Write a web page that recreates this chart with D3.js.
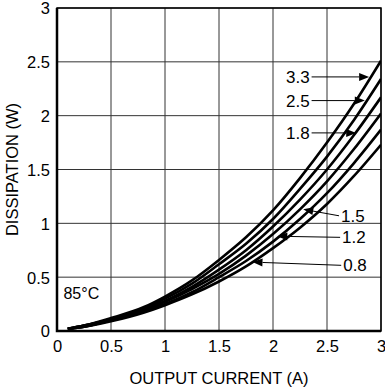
<!DOCTYPE html>
<html>
<head>
<meta charset="utf-8">
<script src="https://cdn.jsdelivr.net/npm/d3@7"></script>
<style>
  body { margin: 0; background: #fff; }
  text { font-family: Arial, "Liberation Sans", sans-serif; fill: #000; }
</style>
</head>
<body>
<svg class="chart"></svg>
<script>
// current values (A) where each curve was read
var currents = [0.1, 0.25, 0.5, 0.8, 1, 1.25, 1.5, 1.75, 2, 2.25, 2.5, 2.75, 3];

// dissipation (W) for each output voltage
var v33 = [0.02, 0.05, 0.12, 0.22, 0.32, 0.47, 0.66, 0.87, 1.12, 1.42, 1.75, 2.11, 2.51];
var v25 = [0.02, 0.05, 0.11, 0.21, 0.30, 0.44, 0.62, 0.81, 1.04, 1.32, 1.62, 1.96, 2.34];
var v18 = [0.02, 0.05, 0.11, 0.20, 0.28, 0.41, 0.57, 0.75, 0.97, 1.22, 1.50, 1.82, 2.17];
var v15 = [0.02, 0.04, 0.10, 0.19, 0.27, 0.39, 0.53, 0.70, 0.90, 1.13, 1.39, 1.69, 2.02];
var v12 = [0.02, 0.04, 0.10, 0.18, 0.25, 0.36, 0.50, 0.65, 0.83, 1.04, 1.28, 1.56, 1.87];
var v08 = [0.02, 0.04, 0.09, 0.17, 0.24, 0.34, 0.46, 0.60, 0.77, 0.96, 1.18, 1.44, 1.73];

var seriesList = [v33, v25, v18, v15, v12, v08];

var xTicks = [0, 0.5, 1, 1.5, 2, 2.5, 3];
var yTicks = [0, 0.5, 1, 1.5, 2, 2.5, 3];
var xTickLabels = ["0", "0.5", "1", "1.5", "2", "2.5", "3"];
var yTickLabels = ["0", "0.5", "1", "1.5", "2", "2.5", "3"];

// labels: text, where the text sits, where the arrow points (data units)
var labelNames = ["3.3", "2.5", "1.8", "1.5", "1.2", "0.8"];
var labelAt = [[2.12, 2.36], [2.12, 2.14], [2.12, 1.84], [2.63, 1.07], [2.64, 0.87], [2.65, 0.61]];
var arrowTip = [[2.89, 2.36], [2.85, 2.14], [2.77, 1.84], [2.28, 1.13], [2.04, 0.88], [1.81, 0.64]];

var svgWidth = 385, svgHeight = 388;
var margin = {top: 8, right: 4, bottom: 57, left: 57};
var width = svgWidth - margin.left - margin.right;
var height = svgHeight - margin.top - margin.bottom;
var fontStack = "Arial, 'Liberation Sans', sans-serif";

var svg = d3.select(".chart")
    .attr("width", svgWidth)
    .attr("height", svgHeight);

var g = svg.append("g")
    .attr("transform", "translate(" + margin.left + "," + margin.top + ")");

var x = d3.scaleLinear().domain([0, 3]).range([0, width]);
var y = d3.scaleLinear().domain([0, 3]).range([height, 0]);

// grid
g.selectAll(".vgrid")
    .data(xTicks)
    .enter().append("line")
    .attr("x1", function(d) { return x(d); })
    .attr("x2", function(d) { return x(d); })
    .attr("y1", 0)
    .attr("y2", height)
    .attr("stroke", "#333")
    .attr("stroke-width", 1);

g.selectAll(".hgrid")
    .data(yTicks)
    .enter().append("line")
    .attr("y1", function(d) { return y(d); })
    .attr("y2", function(d) { return y(d); })
    .attr("x1", 0)
    .attr("x2", width)
    .attr("stroke", "#333")
    .attr("stroke-width", 1);

// axes (text only, frame drawn separately)
var xAxis = g.append("g")
    .attr("transform", "translate(0," + height + ")")
    .call(d3.axisBottom(x).tickValues(xTicks)
        .tickFormat(function(d, i) { return xTickLabels[i]; })
        .tickSize(0).tickPadding(9));
xAxis.select(".domain").remove();
xAxis.selectAll("text").style("font-size", "16.5px").style("font-family", fontStack);

var yAxis = g.append("g")
    .call(d3.axisLeft(y).tickValues(yTicks)
        .tickFormat(function(d, i) { return yTickLabels[i]; })
        .tickSize(0).tickPadding(7));
yAxis.select(".domain").remove();
yAxis.selectAll("text").style("font-size", "16.5px").style("font-family", fontStack)
    .attr("dy", "0.36em");

// frame
g.append("rect")
    .attr("x", 0).attr("y", 0)
    .attr("width", width).attr("height", height)
    .attr("fill", "none")
    .attr("stroke", "#000")
    .attr("stroke-width", 1.5);
g.append("path")
    .attr("d", "M0,0V" + height + "H" + width)
    .attr("fill", "none")
    .attr("stroke", "#000")
    .attr("stroke-width", 2.5);

// curves
var line = d3.line()
    .curve(d3.curveMonotoneX)
    .x(function(d, i) { return x(currents[i]); })
    .y(function(d) { return y(d); });

svg.append("clipPath").attr("id", "plotclip")
    .append("rect").attr("width", width).attr("height", height);

g.append("g")
    .attr("clip-path", "url(#plotclip)")
    .selectAll("path")
    .data(seriesList)
    .enter().append("path")
    .attr("fill", "none")
    .attr("stroke", "#000")
    .attr("stroke-width", 2.6)
    .attr("stroke-linejoin", "round")
    .attr("d", line);

// labels with arrows
labelNames.forEach(function(name, i) {
    var tx = x(labelAt[i][0]), ty = y(labelAt[i][1]);
    var px = x(arrowTip[i][0]), py = y(arrowTip[i][1]);
    var t = g.append("text")
        .attr("x", tx).attr("y", ty)
        .attr("dy", "0.35em")
        .style("font-size", "17px")
        .text(name);
    var w = t.node().getComputedTextLength();
    var sx = px > tx ? tx + w + 2 : tx - 2;
    var ang = Math.atan2(py - ty, px - sx);
    var len = 10, half = 4;
    var bx = px - len * Math.cos(ang), by = py - len * Math.sin(ang);
    g.append("line")
        .attr("x1", sx).attr("y1", ty)
        .attr("x2", bx).attr("y2", by)
        .attr("stroke", "#000")
        .attr("stroke-width", 1);
    g.append("path")
        .attr("d", "M" + px + "," + py +
            "L" + (bx - half * Math.sin(ang)) + "," + (by + half * Math.cos(ang)) +
            "L" + (bx + half * Math.sin(ang)) + "," + (by - half * Math.cos(ang)) + "Z")
        .attr("fill", "#000");
});

// temperature note
g.append("text")
    .attr("x", x(0.06)).attr("y", y(0.35))
    .attr("dy", "0.35em")
    .style("font-size", "16px")
    .text("85°C");

// axis titles
svg.append("text")
    .attr("x", margin.left + width / 2)
    .attr("y", 384)
    .attr("text-anchor", "middle")
    .style("font-size", "16.5px")
    .text("OUTPUT CURRENT (A)");

svg.append("text")
    .attr("transform", "translate(18," + (margin.top + height / 2) + ") rotate(-90)")
    .attr("text-anchor", "middle")
    .style("font-size", "16.5px")
    .text("DISSIPATION (W)");
</script>
</body>
</html>
